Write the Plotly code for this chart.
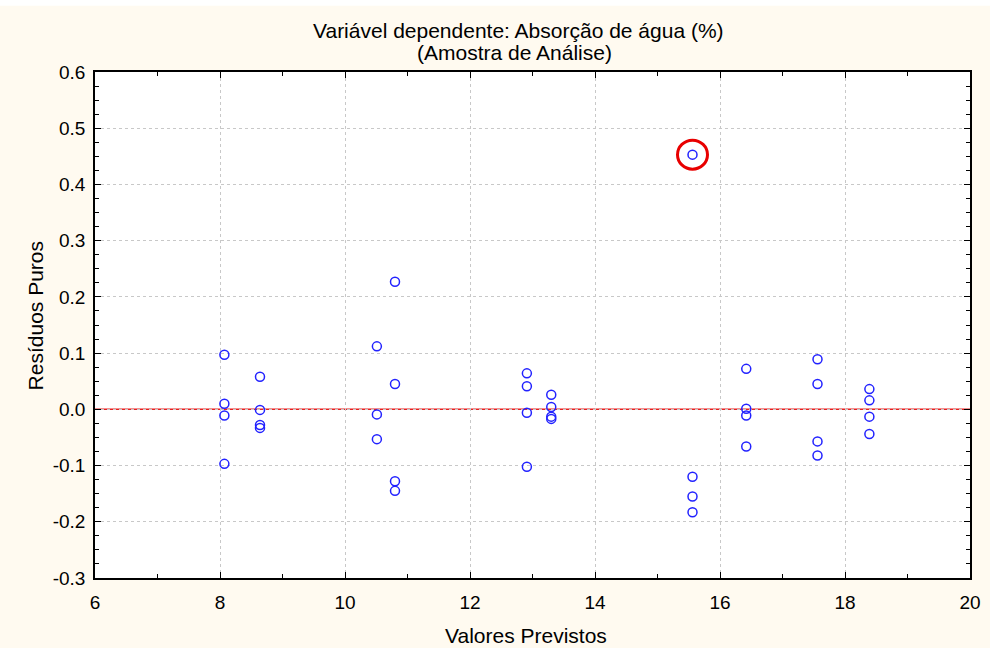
import plotly.graph_objects as go

# Predicted values (x) and raw residuals (y), grouped by predicted level
predicted = [
    8.07, 8.07, 8.07, 8.07,
    8.64, 8.64, 8.64, 8.64,
    10.51, 10.51, 10.51,
    10.80, 10.80, 10.80, 10.80,
    12.91, 12.91, 12.91, 12.91,
    13.30, 13.30, 13.30, 13.30,
    15.56, 15.56, 15.56, 15.56,
    16.42, 16.42, 16.42, 16.42,
    17.56, 17.56, 17.56, 17.56,
    18.39, 18.39, 18.39, 18.39,
]
residuals = [
    0.097, 0.010, -0.011, -0.097,
    0.058, -0.001, -0.028, -0.033,
    0.112, -0.009, -0.053,
    0.227, 0.045, -0.128, -0.145,
    0.064, 0.041, -0.006, -0.102,
    0.026, 0.004, -0.013, -0.017,
    0.453, -0.120, -0.155, -0.183,
    0.072, 0.001, -0.011, -0.066,
    0.089, 0.045, -0.057, -0.082,
    0.036, 0.016, -0.013, -0.044,
]

# Highlighted outlier
outlier_x, outlier_y = 15.56, 0.453

x_ticks = [6, 8, 10, 12, 14, 16, 18, 20]
y_ticks = [-0.3, -0.2, -0.1, 0.0, 0.1, 0.2, 0.3, 0.4, 0.5, 0.6]
y_labels = ["-0.3", "-0.2", "-0.1", "0.0", "0.1", "0.2", "0.3", "0.4", "0.5", "0.6"]

title_lines = ["Variável dependente: Absorção de água (%)", "(Amostra de Análise)"]
x_title = "Valores Previstos"
y_title = "Resíduos Puros"

FONT = "Liberation Sans, Arial, sans-serif"
BG = "#FFFAF0"

fig = go.Figure()

fig.add_trace(go.Scatter(
    x=predicted, y=residuals, mode="markers",
    marker=dict(symbol="circle-open", size=9, color="#2222ff",
                line=dict(width=1.5, color="#2222ff")),
    showlegend=False, hoverinfo="x+y",
))

# zero reference line
fig.add_shape(type="line", xref="x", yref="y", x0=6, x1=20, y0=0, y1=0,
              line=dict(color="#e82020", width=1.5), layer="below")

# circle around the outlier, sized in pixels
fig.add_shape(type="circle", xref="x", yref="y",
              xsizemode="pixel", ysizemode="pixel",
              xanchor=outlier_x, yanchor=outlier_y,
              x0=-15, x1=15, y0=-14.5, y1=14.5,
              line=dict(color="#e80000", width=3))

# white strip along the very top edge
fig.add_shape(type="rect", xref="paper", yref="paper",
              x0=-0.2, x1=1.2, y0=1.131, y1=1.2,
              fillcolor="white", line=dict(width=0), layer="below")

axis_common = dict(
    showline=True, linecolor="black", linewidth=1.5, mirror="ticks",
    ticks="inside", ticklen=6, tickwidth=1.2, tickcolor="black",
    showgrid=True, gridcolor="#c8c8c8", griddash="dot", gridwidth=1,
    zeroline=False,
    tickfont=dict(family=FONT, size=19, color="black"),
)

fig.update_xaxes(
    range=[6, 20], tickvals=x_ticks, ticklabelstandoff=6,
    minor=dict(dtick=1, tick0=6, ticks="inside", ticklen=4, tickcolor="black", showgrid=False),
    **axis_common,
)
fig.update_yaxes(
    range=[-0.3, 0.6], tickvals=y_ticks, ticktext=y_labels, ticklabelstandoff=4,
    minor=dict(dtick=0.025, tick0=0, ticks="inside", ticklen=4, tickcolor="black", showgrid=False),
    **axis_common,
)

# titles placed as annotations for precise positioning
title_font = dict(family=FONT, size=21, color="black")
fig.add_annotation(text=title_lines[0], xref="paper", yref="paper",
                   x=0.484, y=1.083, xanchor="center", yanchor="middle",
                   showarrow=False, font=title_font)
fig.add_annotation(text=title_lines[1], xref="paper", yref="paper",
                   x=0.479, y=1.038, xanchor="center", yanchor="middle",
                   showarrow=False, font=title_font)
fig.add_annotation(text=x_title, xref="paper", yref="paper",
                   x=0.493, y=-0.113, xanchor="center", yanchor="middle",
                   showarrow=False, font=title_font)
fig.add_annotation(text=y_title, xref="paper", yref="paper",
                   x=-0.068, y=0.518, xanchor="center", yanchor="middle",
                   textangle=-90, showarrow=False, font=title_font)

fig.update_layout(
    width=990, height=648,
    margin=dict(l=95, r=9, t=72, b=70),
    paper_bgcolor=BG, plot_bgcolor="white",
    font=dict(family=FONT, color="black"),
)

fig.write_html("out.html")
